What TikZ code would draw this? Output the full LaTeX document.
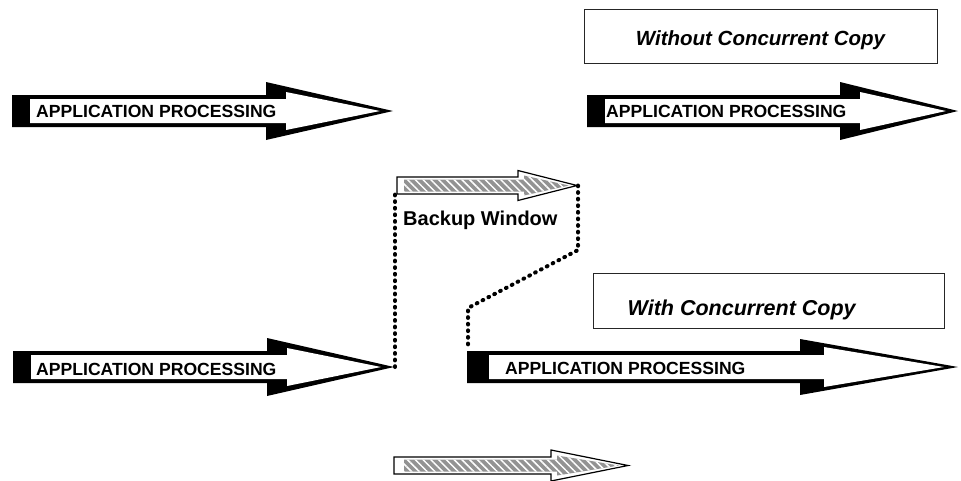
\documentclass[tikz,border=0pt]{standalone}
\usepackage{fontspec}
\usepackage{tikz}
\usetikzlibrary{patterns.meta}
\newfontfamily\arial{Liberation Sans}

\tikzset{
	arrowback/.style={fill=black},
	arrowface/.style={fill=white},
	hatchframe/.style={draw=black,line width=1.2pt,fill=white},
	hatchface/.style={fill=gray!85,postaction={pattern={Lines[angle=-45,distance=5.5pt,line width=1.5pt]},pattern color=white}},
	proclabel/.style={font=\arial\bfseries\fontsize{17.6pt}{20pt}\selectfont,inner sep=0pt,anchor=base west},
	boxtext/.style={font=\arial\bfseries\itshape\fontsize{20.5pt}{24pt}\selectfont,inner sep=0pt},
	titlebox/.style={draw=black!85,line width=1pt,inner sep=0pt},
	link/.style={line width=4pt,dash pattern=on 0.8pt off 5.8pt,line cap=round}
}

\begin{document}
\begin{tikzpicture}[x=1pt,y=-1pt]
	\useasboundingbox (0,0) rectangle (961,480);

	\fill[arrowback] (12,95) -- (266,95) -- (266,82) -- (393,111) -- (266,140) -- (266,127) -- (12,127) -- cycle;
	\fill[arrowface] (30,99) -- (286,99) -- (286,92) -- (380,111) -- (286,130) -- (286,123) -- (30,123) -- cycle;
	\node[proclabel] (app1) at (36,117.5) {APPLICATION PROCESSING};

	\fill[arrowback] (587,95) -- (840,95) -- (840,82) -- (958,111) -- (840,140) -- (840,127) -- (587,127) -- cycle;
	\fill[arrowface] (605,99) -- (860,99) -- (860,92) -- (946,111) -- (860,130) -- (860,123) -- (605,123) -- cycle;
	\node[proclabel] (app2) at (606,117.5) {APPLICATION PROCESSING};

	\fill[arrowback] (13,351) -- (267,351) -- (267,338) -- (394,367) -- (267,396) -- (267,383) -- (13,383) -- cycle;
	\fill[arrowface] (31,355) -- (287,355) -- (287,348) -- (381,367) -- (287,386) -- (287,379) -- (31,379) -- cycle;
	\node[proclabel] (app3) at (36,375) {APPLICATION PROCESSING};

	\fill[arrowback] (467,351) -- (800,351) -- (800,339) -- (958,367) -- (800,395) -- (800,383) -- (467,383) -- cycle;
	\fill[arrowface] (489,355) -- (824,355) -- (824,347) -- (944,367) -- (824,387) -- (824,379) -- (489,379) -- cycle;
	\node[proclabel] (app4) at (505,374.5) {APPLICATION PROCESSING};

	\filldraw[hatchframe] (397,177) -- (518,177) -- (518,170.5) -- (577,185.5) -- (518,200.5) -- (518,194) -- (397,194) -- cycle;
	\fill[hatchface] (404,179.5) -- (524,179.5) -- (524,175.5) -- (569,185.5) -- (524,195.5) -- (524,191.5) -- (404,191.5) -- cycle;
	\node[proclabel,font=\arial\bfseries\fontsize{20pt}{24pt}\selectfont] (backup) at (403,225) {Backup Window};

	\filldraw[hatchframe] (394,457) -- (551,457) -- (551,450) -- (628,465.5) -- (551,481) -- (551,474) -- (394,474) -- cycle;
	\fill[hatchface] (404,459.5) -- (557,459.5) -- (557,455.5) -- (619,465.5) -- (557,475.5) -- (557,471.5) -- (404,471.5) -- cycle;

	\node[titlebox,minimum width=353pt,minimum height=54pt] (nobox) at (760.5,36) {};
	\node[boxtext,anchor=base] (notext) at ([yshift=-9pt]nobox.center) {Without Concurrent Copy};
	\node[titlebox,minimum width=351pt,minimum height=55pt] (withbox) at (768.5,300.5) {};
	\node[boxtext,anchor=base west,font=\arial\bfseries\itshape\fontsize{21.5pt}{24pt}\selectfont] (withtext) at ([xshift=35pt,yshift=-14.5pt]withbox.west) {With Concurrent Copy};

	\coordinate (tip3) at (395,367);
	\coordinate (bwcorner) at (395,194);
	\coordinate (bwtip) at (578,185.5);
	\coordinate (bend1) at (578,250);
	\coordinate (bend2) at (468,308);
	\coordinate (start4) at (468,350);
	\draw[link] (tip3) -- (bwcorner);
	\draw[link] (bwtip) -- (bend1) -- (bend2) -- (start4);
\end{tikzpicture}
\end{document}
